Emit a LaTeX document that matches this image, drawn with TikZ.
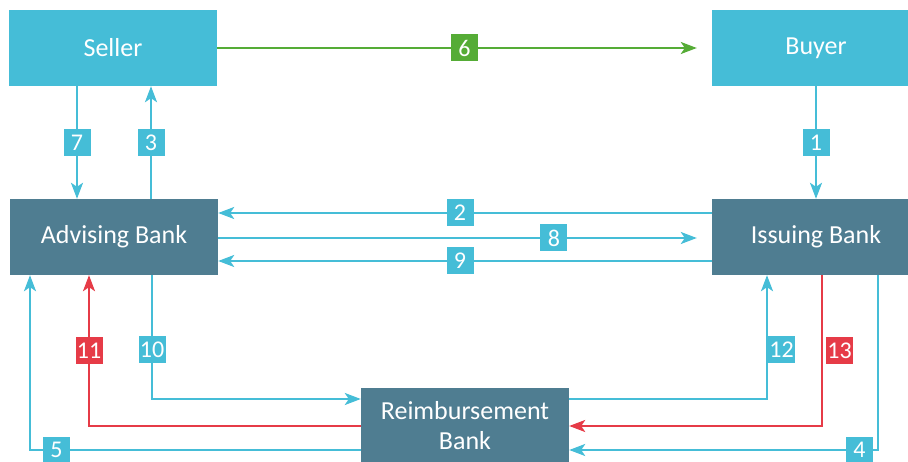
\documentclass[tikz,border=0pt]{standalone}
\usepackage{fontspec}
\setmainfont{Carlito}
\usetikzlibrary{arrows.meta}
\definecolor{skyblue}{HTML}{45BDD7}
\definecolor{slateteal}{HTML}{4F7D91}
\definecolor{alertred}{HTML}{E63B47}
\definecolor{leafgreen}{HTML}{55AC36}
\begin{document}
\begin{tikzpicture}[x=1pt,y=-1pt,
  party/.style={fill=skyblue, text=white, minimum width=208pt, minimum height=76pt,
    inner sep=0pt, font=\fontsize{26}{30}\selectfont},
  bank/.style={party, fill=slateteal},
  flow/.style={draw=skyblue, line width=2pt, -{Stealth[length=16pt,width=12pt,inset=4pt]}},
  lab/.style={fill=skyblue, text=white, minimum size=27pt, inner sep=0pt,
    font=\fontsize{24}{24}\selectfont},
]
\useasboundingbox (0,0) rectangle (908,462);
\clip (0,0) rectangle (908,462);

% parties and banks
\node[party] (seller) at (113,48) {Seller};
\node[party] (buyer) at (816,48) {Buyer};
\node[bank] (advising) at (114,237) {Advising Bank};
\node[bank] (issuing) at (816,237) {Issuing Bank};
\node[bank, align=center] (reimb) at (465,426) {Reimbursement\\Bank};

% columns and rows used by the connectors
\coordinate (c5) at (30,0);
\coordinate (c7) at (77,0);
\coordinate (c11) at (89,0);
\coordinate (c3) at (151,0);
\coordinate (c10) at (152,0);
\coordinate (c12) at (767,0);
\coordinate (c13) at (822,0);
\coordinate (c4) at (878,0);
\coordinate (r2) at (0,213);
\coordinate (r8) at (0,238);
\coordinate (r9) at (0,261);
\coordinate (r10) at (0,399);
\coordinate (r5) at (0,450);

% top row
\draw[flow, draw=leafgreen, shorten >=15pt] (seller) -- node[lab, fill=leafgreen]{6} (buyer);
\draw[flow] (seller.south -| c7) -- node[lab]{7} (advising.north -| c7);
\draw[flow] (advising.north -| c3) -- node[lab]{3} (seller.south -| c3);
\draw[flow] (buyer) -- node[lab]{1} (issuing);

% between the banks
\draw[flow] (issuing.west |- r2) -- node[lab, pos=0.51]{2} (advising.east |- r2);
\draw[flow, shorten >=15pt] (advising.east |- r8) -- node[lab, pos=0.68]{8} (issuing.west |- r8);
\draw[flow] (issuing.west |- r9) -- node[lab, pos=0.51]{9} (advising.east |- r9);

% reimbursement flows
\draw[flow] (advising.south -| c10) |- node[lab, pos=0.30]{10} (reimb.west |- r10);
\draw[flow, draw=alertred] (reimb.west) -| node[lab, fill=alertred, pos=0.75]{11} (advising.south -| c11);
\draw[flow] (reimb.west |- r5) -| node[lab, pos=0.46]{5} (advising.south -| c5);
\draw[flow] (reimb.east |- r10) -| node[lab, pos=0.70, anchor=west]{12} (issuing.south -| c12);
\draw[flow, draw=alertred] (issuing.south -| c13) |- node[lab, fill=alertred, pos=0.25, anchor=west, xshift=3pt]{13} (reimb.east);
\draw[flow] (issuing.south -| c4) |- node[lab, pos=0.53]{4} (reimb.east |- r5);
\end{tikzpicture}
\end{document}
